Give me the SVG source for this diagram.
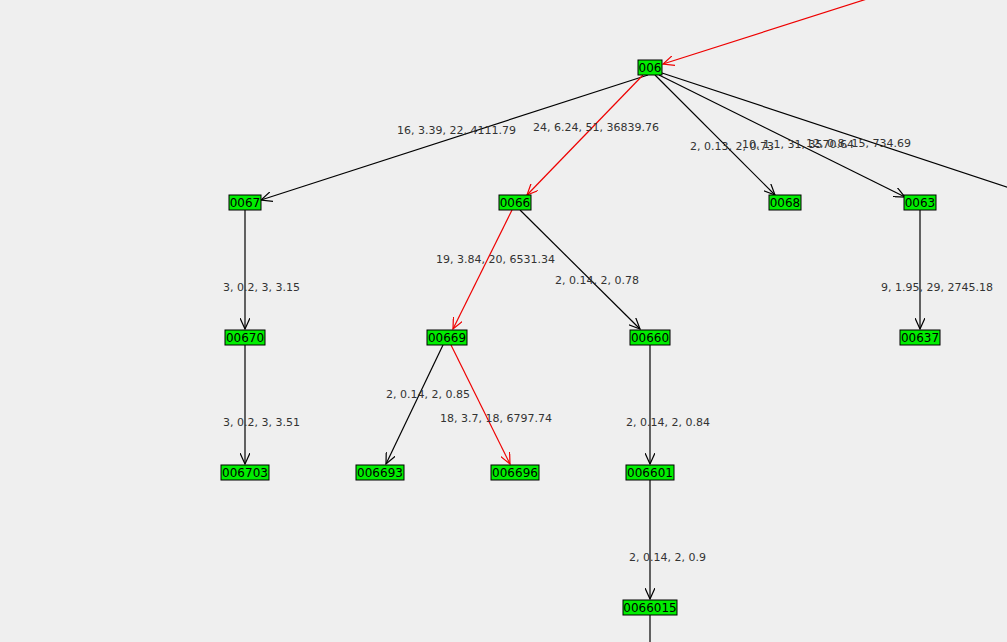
<svg xmlns="http://www.w3.org/2000/svg" width="1007" height="642" viewBox="0 0 1007 642">
<style>
.n rect{fill:#00ee00;stroke:#000;stroke-width:1}
.n text{font:12px "DejaVu Sans",sans-serif;text-anchor:middle;fill:#000}
.e line{stroke:#000;stroke-width:1.2}
.e line.r{stroke:#ee0000}
.l{font:11px "DejaVu Sans",sans-serif;fill:#333}
</style>
<defs>
<marker id="a" viewBox="0 0 12 10" refX="11" refY="5" markerWidth="12" markerHeight="10" markerUnits="userSpaceOnUse" orient="auto"><polyline points="0,0 11,5 0,10" fill="none" stroke="#000" stroke-width="1.2"/></marker>
<marker id="ar" viewBox="0 0 12 10" refX="11" refY="5" markerWidth="12" markerHeight="10" markerUnits="userSpaceOnUse" orient="auto"><polyline points="0,0 11,5 0,10" fill="none" stroke="#ee0000" stroke-width="1.2"/></marker>
</defs>
<rect width="1007" height="642" fill="#efefef"/>
<g class="e">
<line class="r" x1="870" y1="-2" x2="663" y2="64" marker-end="url(#ar)"/>
<line x1="648" y1="75" x2="261" y2="200" marker-end="url(#a)"/>
<line class="r" x1="643" y1="75" x2="527" y2="195" marker-end="url(#ar)"/>
<line x1="655" y1="75" x2="775" y2="195" marker-end="url(#a)"/>
<line x1="659" y1="75" x2="905" y2="197" marker-end="url(#a)"/>
<line x1="662" y1="73" x2="1010" y2="188"/>
<line x1="245" y1="210" x2="245" y2="329" marker-end="url(#a)"/>
<line class="r" x1="512" y1="210" x2="453" y2="329" marker-end="url(#ar)"/>
<line x1="520" y1="210" x2="640" y2="329" marker-end="url(#a)"/>
<line x1="920" y1="210" x2="920" y2="329" marker-end="url(#a)"/>
<line x1="245" y1="345" x2="245" y2="464" marker-end="url(#a)"/>
<line x1="443" y1="345" x2="386" y2="464" marker-end="url(#a)"/>
<line class="r" x1="451" y1="345" x2="510" y2="464" marker-end="url(#ar)"/>
<line x1="650" y1="345" x2="650" y2="464" marker-end="url(#a)"/>
<line x1="650" y1="480" x2="650" y2="599" marker-end="url(#a)"/>
<line x1="650" y1="615" x2="650" y2="642"/>
</g>
<g>
<text class="l" x="397" y="134">16, 3.39, 22, 4111.79</text>
<text class="l" x="533" y="131">24, 6.24, 51, 36839.76</text>
<text class="l" x="690" y="150">2, 0.13, 2, 0.73</text>
<text class="l" x="742" y="148">10, 1.1, 31, 3570.64</text>
<text class="l" x="806" y="147">12, 0.8, 15, 734.69</text>
<text class="l" x="223" y="291">3, 0.2, 3, 3.15</text>
<text class="l" x="436" y="263">19, 3.84, 20, 6531.34</text>
<text class="l" x="555" y="284">2, 0.14, 2, 0.78</text>
<text class="l" x="881" y="291">9, 1.95, 29, 2745.18</text>
<text class="l" x="223" y="426">3, 0.2, 3, 3.51</text>
<text class="l" x="386" y="398">2, 0.14, 2, 0.85</text>
<text class="l" x="440" y="422">18, 3.7, 18, 6797.74</text>
<text class="l" x="626" y="426">2, 0.14, 2, 0.84</text>
<text class="l" x="629" y="561">2, 0.14, 2, 0.9</text>
</g>
<g id="n006" class="n"><rect x="638" y="60" width="24" height="15"/><text x="650" y="72">006</text></g>
<g id="n0067" class="n"><rect x="229" y="195" width="32" height="15"/><text x="245" y="207">0067</text></g>
<g id="n0066" class="n"><rect x="499" y="195" width="32" height="15"/><text x="515" y="207">0066</text></g>
<g id="n0068" class="n"><rect x="769" y="195" width="32" height="15"/><text x="785" y="207">0068</text></g>
<g id="n0063" class="n"><rect x="904" y="195" width="32" height="15"/><text x="920" y="207">0063</text></g>
<g id="n00670" class="n"><rect x="225" y="330" width="40" height="15"/><text x="245" y="342">00670</text></g>
<g id="n00669" class="n"><rect x="427" y="330" width="40" height="15"/><text x="447" y="342">00669</text></g>
<g id="n00660" class="n"><rect x="630" y="330" width="40" height="15"/><text x="650" y="342">00660</text></g>
<g id="n00637" class="n"><rect x="900" y="330" width="40" height="15"/><text x="920" y="342">00637</text></g>
<g id="n006703" class="n"><rect x="221" y="465" width="48" height="15"/><text x="245" y="477">006703</text></g>
<g id="n006693" class="n"><rect x="356" y="465" width="48" height="15"/><text x="380" y="477">006693</text></g>
<g id="n006696" class="n"><rect x="491" y="465" width="48" height="15"/><text x="515" y="477">006696</text></g>
<g id="n006601" class="n"><rect x="626" y="465" width="48" height="15"/><text x="650" y="477">006601</text></g>
<g id="n0066015" class="n"><rect x="623" y="600" width="54" height="15"/><text x="650" y="612">0066015</text></g>
</svg>
